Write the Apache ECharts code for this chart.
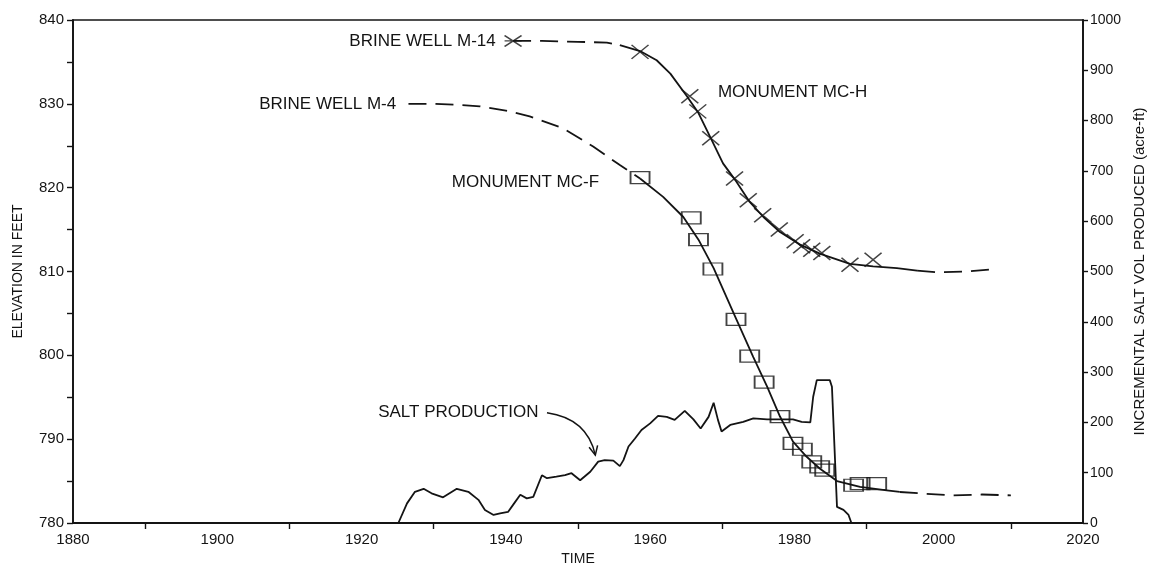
<!DOCTYPE html>
<html>
<head>
<meta charset="utf-8">
<script src="https://cdn.jsdelivr.net/npm/echarts@6/dist/echarts.min.js"></script>
<style>
  html, body { margin: 0; padding: 0; background: #fff; }
  #chart { width: 1152px; height: 563px; }
</style>
</head>
<body>
<div id="chart"></div>
<script>
// monument MC-H (brine well M-14) fitted curve, [year, elevation ft]
const mcHHead = [[1941.0, 837.5], [1945, 837.5], [1950, 837.4], [1954, 837.3], [1955.8, 837.0]];
const mcHCurve = [[1955.8, 837.0], [1958.6, 836.3], [1960.9, 835.2], [1962.8, 833.6], [1965.1, 830.9],
  [1966.7, 828.9], [1968.3, 826.1], [1970.1, 822.9], [1971.8, 820.9], [1973.8, 818.3], [1975.7, 816.5],
  [1978.0, 814.7], [1980.8, 813.2], [1983.6, 812.1], [1987.7, 810.9], [1990.9, 810.6], [1994.2, 810.4], [1997.0, 810.1]];
const mcHTail = [[1997.0, 810.1], [2000, 809.9], [2004, 810.0], [2008, 810.3]];
// measured points on MC-H
const mcHObs = [[1958.6, 836.2], [1965.5, 830.9], [1966.6, 829.1], [1968.4, 825.9], [1971.7, 821.1],
  [1973.6, 818.5], [1975.6, 816.7], [1977.9, 815.0], [1980.1, 813.6], [1981.0, 813.0], [1982.4, 812.6],
  [1983.8, 812.2], [1987.7, 810.8], [1990.9, 811.4]];
const m14Well = [[1941.0, 837.5]];

// monument MC-F (brine well M-4)
const mcFHead = [[1926.5, 830.0], [1930, 830.0], [1933, 829.9], [1936.4, 829.7], [1940, 829.2],
  [1943.3, 828.5], [1947.9, 827.1], [1952.1, 824.9], [1955.8, 822.7], [1958.6, 821.1]];
const mcFCurve = [[1958.6, 821.1], [1961.8, 818.9], [1964.6, 816.5], [1966.7, 813.8], [1968.8, 810.4],
  [1971.8, 804.6], [1974.3, 799.8], [1976.2, 796.3], [1978.0, 792.7], [1979.8, 789.7], [1981.7, 787.9],
  [1983.5, 786.5], [1985.9, 785.0], [1989.1, 784.3], [1992.8, 783.9], [1994.6, 783.7]];
const mcFTail = [[1994.6, 783.7], [1998, 783.5], [2002, 783.3], [2006, 783.4], [2010, 783.3]];
const mcFObs = [[1958.6, 821.2], [1965.7, 816.4], [1966.7, 813.8], [1968.7, 810.3], [1971.9, 804.3],
  [1973.8, 799.9], [1975.8, 796.8], [1978.0, 792.7], [1979.8, 789.5], [1981.1, 788.8], [1982.4, 787.3],
  [1983.5, 786.7], [1984.2, 786.3], [1988.2, 784.5], [1989.1, 784.7], [1991.4, 784.7]];

// incremental salt volume produced, [year, acre-ft]
const saltProduction = [[1925.1, 0], [1926.3, 39], [1927.4, 62], [1928.6, 68], [1929.7, 59], [1931.3, 51],
  [1933.2, 68], [1934.8, 62], [1936.2, 46], [1937.1, 26], [1938.3, 16], [1939.2, 19], [1940.3, 22],
  [1941.0, 36], [1942.0, 56], [1942.9, 49], [1943.8, 52], [1945.0, 95], [1945.7, 89], [1947.0, 92],
  [1948.2, 95], [1949.1, 99], [1950.3, 85], [1951.7, 102], [1952.8, 122], [1953.7, 125], [1954.9, 124],
  [1955.8, 113], [1956.3, 125], [1957.0, 152], [1957.9, 168], [1958.8, 185], [1960.0, 198], [1961.1, 213],
  [1962.3, 211], [1963.4, 205], [1964.8, 223], [1966.0, 206], [1967.0, 188], [1968.1, 211], [1968.8, 239],
  [1969.4, 205], [1969.9, 182], [1971.1, 195], [1972.9, 201], [1974.3, 208], [1976.2, 206], [1978.0, 206],
  [1979.8, 206], [1981.0, 201], [1982.2, 200], [1982.6, 251], [1983.1, 284], [1984.9, 284], [1985.2, 271],
  [1985.9, 32], [1986.8, 26], [1987.5, 16], [1987.9, 0]];

// text labels, anchored in data space (year, value on the named axis)
const labels = [
  { text: 'BRINE WELL M-14', at: [1938.6, 837.5], axis: 'left', align: 'right' },
  { text: 'BRINE WELL M-4', at: [1924.8, 830.0], axis: 'left', align: 'right' },
  { text: 'MONUMENT MC-H', at: [1969.4, 831.4], axis: 'left', align: 'left' },
  { text: 'MONUMENT MC-F', at: [1932.5, 820.6], axis: 'left', align: 'left' },
  { text: 'SALT PRODUCTION', at: [1922.3, 221], axis: 'right', align: 'left' }
];
// arrow from label to curve: start, control 1, control 2, tip (year, acre-ft)
const arrowPath = [[1945.7, 219], [1949.6, 211], [1951.7, 180], [1952.4, 135]];

const ink = '#141414';
const font = 'Liberation Sans, Arial, sans-serif';

const chart = echarts.init(document.getElementById('chart'));

function curve(data, dashed) {
  return {
    type: 'line',
    data: data,
    showSymbol: false,
    silent: true,
    z: 2,
    lineStyle: { color: ink, width: 1.8, type: dashed ? [18, 9] : 'solid' }
  };
}

const hollow = { color: 'rgba(0,0,0,0)', borderColor: ink, borderWidth: 1.5 };
const plain = function (v) { return String(v); };

chart.setOption({
  animation: false,
  backgroundColor: '#fff',
  grid: {
    left: 73, right: 69, top: 20, bottom: 40, outerBoundsMode: 'none', containLabel: false,
    show: true, borderColor: ink, borderWidth: 1.5
  },
  xAxis: {
    type: 'value', min: 1880, max: 2020, interval: 20,
    name: 'TIME', nameLocation: 'middle', nameGap: 26,
    nameTextStyle: { fontFamily: font, fontSize: 14, color: ink },
    axisLine: { lineStyle: { color: ink, width: 1.8 } },
    axisTick: { show: false },
    minorTick: { show: true, splitNumber: 2, length: 6, lineStyle: { color: ink, width: 1.4 } },
    splitLine: { show: false },
    axisLabel: { fontFamily: font, fontSize: 15, color: ink, margin: 9, formatter: plain }
  },
  yAxis: [{
    type: 'value', min: 780, max: 840, interval: 10,
    name: 'ELEVATION IN FEET', nameLocation: 'middle', nameGap: 48, nameRotate: 90,
    nameTextStyle: { fontFamily: font, fontSize: 14, color: ink },
    axisLine: { show: true, lineStyle: { color: ink, width: 1.8 } },
    axisTick: { show: true, length: 6, lineStyle: { color: ink, width: 1.4 } },
    minorTick: { show: true, splitNumber: 2, length: 6, lineStyle: { color: ink, width: 1.4 } },
    splitLine: { show: false },
    axisLabel: { fontFamily: font, fontSize: 15, color: ink, margin: 9, formatter: plain }
  }, {
    type: 'value', min: 0, max: 1000, interval: 100, position: 'right',
    name: 'INCREMENTAL SALT VOL PRODUCED (acre-ft)', nameLocation: 'middle', nameGap: 48, nameRotate: 90,
    nameTextStyle: { fontFamily: font, fontSize: 15, color: ink },
    axisLine: { show: true, lineStyle: { color: ink, width: 1.8 } },
    axisTick: { show: true, length: 5, lineStyle: { color: ink, width: 1.4 } },
    splitLine: { show: false },
    axisLabel: { fontFamily: font, fontSize: 14, color: ink, margin: 7, formatter: plain }
  }],
  series: [
    curve(mcHHead, true),
    curve(mcHCurve, false),
    curve(mcHTail, true),
    {
      type: 'scatter', data: mcHObs, z: 3, silent: true,
      symbol: 'path://M0,0L16,13M16,0L0,13', symbolSize: [17, 14], itemStyle: hollow
    },
    {
      type: 'scatter', data: m14Well, z: 3, silent: true,
      symbol: 'path://M0,0L16,12M16,0L0,12M0,6L16,6', symbolSize: [17, 11], itemStyle: hollow
    },
    curve(mcFHead, true),
    curve(mcFCurve, false),
    curve(mcFTail, true),
    {
      type: 'scatter', data: mcFObs, z: 3, silent: true,
      symbol: 'rect', symbolSize: [19, 12], itemStyle: hollow
    },
    {
      type: 'line', yAxisIndex: 1, data: saltProduction, showSymbol: false, silent: true, z: 2,
      lineStyle: { color: ink, width: 1.8 }
    }
  ]
});

// place labels and the arrow through the chart's own coordinate system
function px(pt, axis) {
  return chart.convertToPixel({ xAxisIndex: 0, yAxisIndex: axis === 'right' ? 1 : 0 }, pt);
}
const graphics = labels.map(function (l) {
  const p = px(l.at, l.axis);
  return {
    type: 'text', silent: true, z: 10,
    style: { text: l.text, x: p[0], y: p[1], fill: ink, font: '17px ' + font, align: l.align, verticalAlign: 'middle' }
  };
});
const a = arrowPath.map(function (pt) { return px(pt, 'right'); });
graphics.push({
  type: 'bezierCurve', silent: true, z: 10,
  shape: { x1: a[0][0], y1: a[0][1], cpx1: a[1][0], cpy1: a[1][1], cpx2: a[2][0], cpy2: a[2][1], x2: a[3][0], y2: a[3][1] },
  style: { stroke: ink, lineWidth: 1.5, fill: null }
});
const ang = Math.atan2(a[3][1] - a[2][1], a[3][0] - a[2][0]);
const head = 10, spread = 0.45;
graphics.push({
  type: 'polyline', silent: true, z: 10,
  shape: { points: [
    [a[3][0] - head * Math.cos(ang - spread), a[3][1] - head * Math.sin(ang - spread)],
    a[3],
    [a[3][0] - head * Math.cos(ang + spread), a[3][1] - head * Math.sin(ang + spread)]
  ] },
  style: { stroke: ink, lineWidth: 1.5, fill: null }
});
chart.setOption({ graphic: graphics });
</script>
</body>
</html>
